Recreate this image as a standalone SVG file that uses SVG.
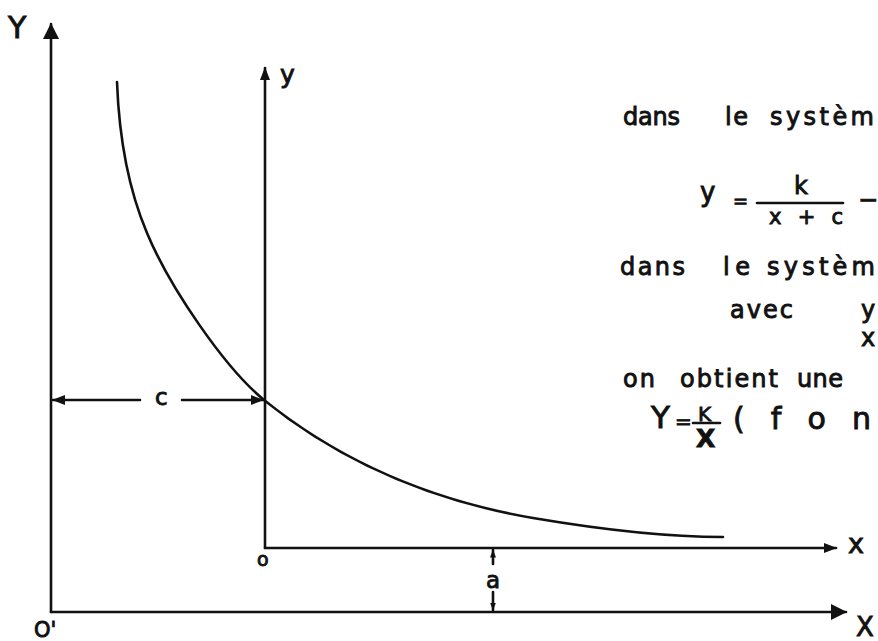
<svg xmlns="http://www.w3.org/2000/svg" width="878" height="641" viewBox="0 0 878 641">
<style>
.ax{fill:none;stroke:#111;stroke-width:2.6;stroke-linecap:round}
.t{font-family:"DejaVu Sans","Liberation Sans",sans-serif;fill:#111;stroke:#111;stroke-width:0.9}
.w{font-size:24px}
</style>
<defs>
<marker id="ah" markerUnits="userSpaceOnUse" markerWidth="16" markerHeight="18" viewBox="0 0 16 18" refX="15" refY="9" orient="auto">
<path d="M0,1 L16,9 L0,17 Z" fill="#111"/>
</marker>
<marker id="ahs" markerUnits="userSpaceOnUse" markerWidth="13" markerHeight="13" viewBox="0 0 13 13" refX="12" refY="6.5" orient="auto">
<path d="M0,1.5 L13,6.5 L0,11.5 Z" fill="#111"/>
</marker>
<marker id="aht" markerUnits="userSpaceOnUse" markerWidth="8" markerHeight="8" viewBox="0 0 8 8" refX="7.5" refY="4" orient="auto">
<path d="M0,1 L8,4 L0,7 Z" fill="#111"/>
</marker>
</defs>
<rect width="878" height="641" fill="#fff"/>

<g id="axes">
<path class="ax" d="M51,612 L51,24" marker-end="url(#ah)"/>
<path class="ax" d="M51,612 L846,612" marker-end="url(#ah)"/>
<path class="ax" d="M265,548 L265,68" marker-end="url(#ahs)"/>
<path class="ax" d="M265,548 L836,548" marker-end="url(#ahs)"/>
</g>

<g id="curve">
<path class="ax" d="M117,82 C119,135 127.5,187 147,233 C170,288 225,368 264,400 C342,463 434,501 533,518 C592,528 663,537 723,537"/>
</g>

<g id="dimensions">
<path class="ax" d="M140,400 L53,400" marker-end="url(#ahs)"/>
<path class="ax" d="M182,400 L263,400" marker-end="url(#ahs)"/>
<path class="ax" stroke-width="1.8" d="M493,564 L493,550" marker-end="url(#aht)"/>
<path class="ax" stroke-width="1.8" d="M493,592 L493,610" marker-end="url(#aht)"/>
</g>

<g id="axis-labels">
<text class="t" x="8" y="38" font-size="30">Y</text>
<text class="t" x="280" y="83" font-size="25">y</text>
<text class="t" x="848" y="553" font-size="27">x</text>
<text class="t" x="856" y="636" font-size="26">X</text>
<text class="t" x="257" y="566" font-size="19">o</text>
<text class="t" x="34" y="637" font-size="21">O'</text>
<text class="t" x="155" y="405" font-size="23">c</text>
<text class="t" x="486" y="588" font-size="23">a</text>
</g>

<g id="explanation">
<text class="t w" x="623" y="125" textLength="57" lengthAdjust="spacing">dans</text>
<text class="t w" x="725" y="125" textLength="23" lengthAdjust="spacing">le</text>
<text class="t w" x="770" y="125" textLength="104" lengthAdjust="spacing">systèm</text>

<text class="t" x="700" y="201" font-size="26">y</text>
<text class="t" x="733" y="207" font-size="18">=</text>
<line class="ax" x1="757" y1="203" x2="843" y2="203" stroke-width="2.6"/>
<text class="t" x="794" y="194" font-size="24">k</text>
<text class="t" x="769" y="224" font-size="21" textLength="74" lengthAdjust="spacing">x+c</text>
<text class="t" x="858" y="208" font-size="24">−</text>

<text class="t w" x="620" y="275" textLength="65" lengthAdjust="spacing">dans</text>
<text class="t w" x="723" y="275" textLength="27" lengthAdjust="spacing">le</text>
<text class="t w" x="767" y="275" textLength="108" lengthAdjust="spacing">systèm</text>

<text class="t w" x="730" y="318" textLength="63" lengthAdjust="spacing">avec</text>
<text class="t w" x="861" y="318">y</text>
<text class="t w" x="861" y="346">x</text>

<text class="t w" x="623" y="387" textLength="32" lengthAdjust="spacing">on</text>
<text class="t w" x="680" y="387" textLength="98" lengthAdjust="spacing">obtient</text>
<text class="t w" x="797" y="387" textLength="46" lengthAdjust="spacing">une</text>

<text class="t" x="651" y="428" font-size="31">Y</text>
<text class="t" x="675" y="428" font-size="20">=</text>
<line class="ax" x1="693" y1="423" x2="720" y2="423" stroke-width="3.6"/>
<text class="t" x="698" y="421" font-size="20">K</text>
<text class="t" x="696" y="447" font-size="25" font-weight="bold">X</text>
<text class="t" x="733" y="429" font-size="30" textLength="138" lengthAdjust="spacing">(fon</text>
</g>
</svg>
